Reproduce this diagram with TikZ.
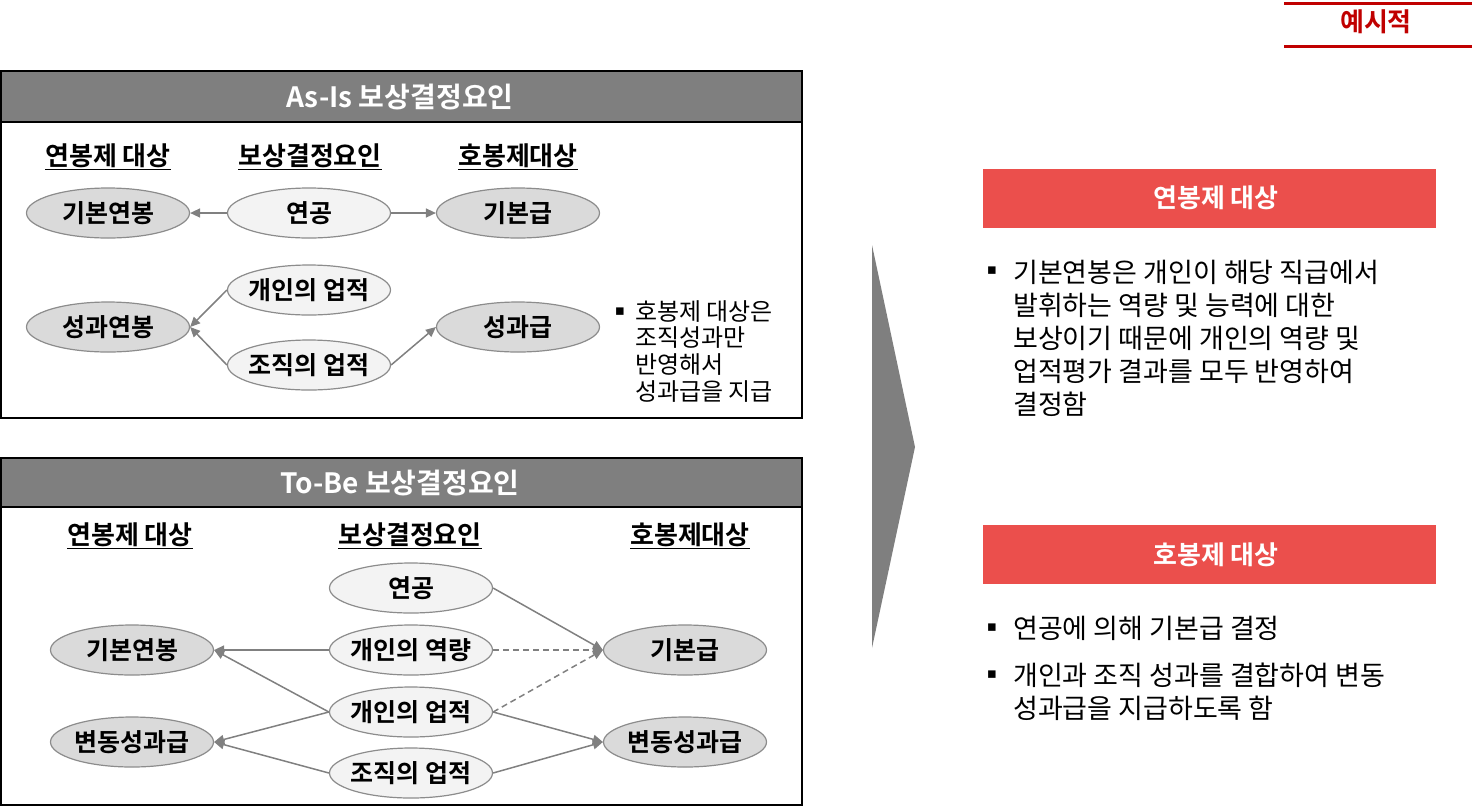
\documentclass[tikz,border=0pt]{standalone}
\usepackage{fontspec}
\setmainfont{Noto Sans CJK KR}[BoldFont={Noto Sans CJK KR Bold}]
\newfontfamily\dejavu{DejaVu Sans}
\usetikzlibrary{shapes.geometric,arrows.meta}
\definecolor{hdrgray}{HTML}{7F7F7F}
\definecolor{ellgray}{HTML}{8C8C8C}
\definecolor{elldark}{HTML}{DADADA}
\definecolor{elllight}{HTML}{F3F3F3}
\definecolor{arrgray}{HTML}{808080}
\definecolor{barred}{HTML}{EB4F4C}
\definecolor{darkred}{HTML}{C00000}
\begin{document}
\begin{tikzpicture}[x=1pt,y=-1pt,
  ell/.style={ellipse, draw=ellgray, line width=1.2pt, minimum width=163pt, minimum height=50pt, inner xsep=-14pt, inner ysep=0pt, font=\fontsize{25}{25}\selectfont\bfseries},
  dark/.style={ell, fill=elldark},
  light/.style={ell, fill=elllight},
  arr/.style={draw=arrgray, line width=1.5pt, -{Triangle[length=10pt,width=9pt]}},
  darr/.style={arr, dashed, dash pattern=on 6pt off 4pt},
  colhdr/.style={font=\fontsize{26}{26}\selectfont\bfseries, inner sep=0pt},
  title/.style={font=\fontsize{28}{28}\selectfont\bfseries, text=white, inner sep=0pt},
  boxline/.style={line width=2pt, draw=black},
  bartext/.style={font=\fontsize{26}{26}\selectfont\bfseries, text=white, inner sep=0pt},
  body/.style={font=\fontsize{27}{27}\selectfont, anchor=west, inner sep=0pt},
  note/.style={font=\fontsize{24}{24}\selectfont, anchor=west, inner sep=0pt},
  bul/.style={font=\dejavu\fontsize{15}{15}\selectfont, inner sep=0pt}]
\useasboundingbox (0,0) rectangle (1472,807);

% top-right tag
\draw[darkred, line width=3pt] (1284,3) -- (1472,3);
\draw[darkred, line width=3pt] (1284,46) -- (1472,46);
\node[font=\fontsize{26}{26}\selectfont\bfseries, text=darkred, inner sep=0pt] (tag) at (1376,22) {예시적};

% ===== As-Is box =====
\fill[hdrgray] (1,71) rectangle (802,122);
\draw[boxline] (1,71) rectangle (802,418);
\draw[boxline] (1,122) -- (802,122);
\node[title] (t1) at (400,97) {As-Is 보상결정요인};

\node[colhdr] (a1) at (108,157) {\underline{연봉제 대상}};
\node[colhdr] (a2) at (310,157) {\underline{보상결정요인}};
\node[colhdr] (a3) at (518,157) {\underline{호봉제대상}};

\node[dark]  (aGY) at (108,213) {기본연봉};
\node[light] (aYG) at (309,213) {연공};
\node[dark]  (aGB) at (518,213) {기본급};
\node[light] (aPI) at (309,290) {개인의 업적};
\node[dark]  (aSY) at (108,327) {성과연봉};
\node[light] (aPO) at (309,365) {조직의 업적};
\node[dark]  (aSG) at (518,327) {성과급};

\draw[arr] (aYG.west) -- (aGY.east);
\draw[arr] (aYG.east) -- (aGB.west);
\draw[arr] (aPI.west) -- (aSY.east);
\draw[arr] (aPO.west) -- (aSY.east);
\draw[arr] (aPO.east) -- (aSG.west);

\node[bul] (nb) at (620,312) {▪};
\node[note] (n1) at (635,312) {호봉제 대상은};
\node[note] (n2) at (635,338) {조직성과만};
\node[note] (n3) at (635,365) {반영해서};
\node[note] (n4) at (635,392) {성과급을 지급};

% ===== To-Be box =====
\fill[hdrgray] (1,458) rectangle (802,507);
\draw[boxline] (1,458) rectangle (802,805);
\draw[boxline] (1,507) -- (802,507);
\node[title] (t2) at (400,483) {To-Be 보상결정요인};

\node[colhdr] (b1) at (130,536) {\underline{연봉제 대상}};
\node[colhdr] (b2) at (410,536) {\underline{보상결정요인}};
\node[colhdr] (b3) at (690,536) {\underline{호봉제대상}};

\node[light] (bYG) at (411,588) {연공};
\node[light] (bPC) at (411,650) {개인의 역량};
\node[light] (bPI) at (411,712) {개인의 업적};
\node[light] (bPO) at (411,773) {조직의 업적};
\node[dark]  (bGY) at (132,650) {기본연봉};
\node[dark]  (bBL) at (132,742) {변동성과급};
\node[dark]  (bGB) at (685,650) {기본급};
\node[dark]  (bBR) at (685,742) {변동성과급};

\draw[arr] (bPC.west) -- (bGY.east);
\draw[arr] (bPI.west) -- (bGY.east);
\draw[arr] (bPI.west) -- (bBL.east);
\draw[arr] (bPO.west) -- (bBL.east);
\draw[arr] (bYG.east) -- (bGB.west);
\draw[darr] (bPC.east) -- (bGB.west);
\draw[darr] (bPI.east) -- (bGB.west);
\draw[arr] (bPI.east) -- (bBR.west);
\draw[arr] (bPO.east) -- (bBR.west);

% ===== chevron =====
\fill[hdrgray] (872,245) -- (915,447) -- (872,648) -- cycle;

% ===== right panel =====
\fill[barred] (983,169) rectangle (1436,228);
\node[bartext] (r1) at (1216,198) {연봉제 대상};
\node[bul] (rb1) at (992,271) {▪};
\node[body] (r1a) at (1013,272) {기본연봉은 개인이 해당 직급에서};
\node[body] (r1b) at (1013,305) {발휘하는 역량 및 능력에 대한};
\node[body] (r1c) at (1013,338) {보상이기 때문에 개인의 역량 및};
\node[body] (r1d) at (1013,371) {업적평가 결과를 모두 반영하여};
\node[body] (r1e) at (1013,404) {결정함};

\fill[barred] (983,525) rectangle (1436,584);
\node[bartext] (r2) at (1216,555) {호봉제 대상};
\node[bul] (rb2) at (992,628) {▪};
\node[body] (r2a) at (1013,628) {연공에 의해 기본급 결정};
\node[bul] (rb3) at (992,675) {▪};
\node[body] (r2b) at (1013,675) {개인과 조직 성과를 결합하여 변동};
\node[body] (r2c) at (1013,708) {성과급을 지급하도록 함};
\end{tikzpicture}
\end{document}
